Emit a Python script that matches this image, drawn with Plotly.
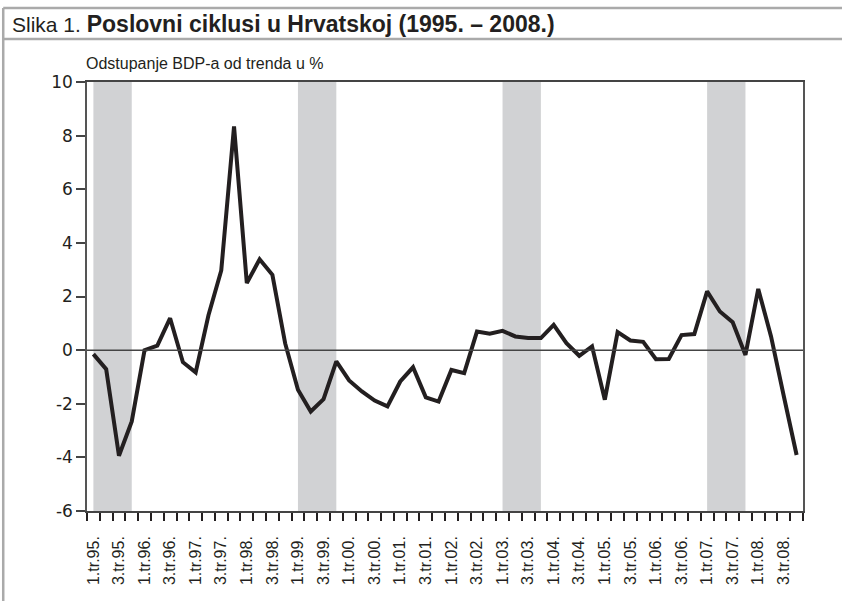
import plotly.graph_objects as go

# Kvartali 1995. - 2008.
kvartali = [f"{q}.tr.{str(g)[2:]}." for g in range(1995, 2009) for q in (1, 2, 3, 4)]

# Odstupanje BDP-a od trenda u %
odstupanje = [
    -0.15, -0.71, -3.94, -2.66,   # 1995
    0.0, 0.17, 1.19, -0.45,       # 1996
    -0.83, 1.3, 2.97, 8.34,       # 1997
    2.5, 3.39, 2.81, 0.25,        # 1998
    -1.48, -2.29, -1.83, -0.42,   # 1999
    -1.13, -1.54, -1.88, -2.1,    # 2000
    -1.17, -0.64, -1.76, -1.92,   # 2001
    -0.74, -0.86, 0.69, 0.61,     # 2002
    0.72, 0.51, 0.45, 0.45,       # 2003
    0.94, 0.26, -0.21, 0.14,      # 2004
    -1.85, 0.67, 0.36, 0.31,      # 2005
    -0.34, -0.33, 0.56, 0.6,      # 2006
    2.19, 1.44, 1.04, -0.18,      # 2007
    2.28, 0.51, -1.72, -3.91,     # 2008
]

# Razdoblja recesije (osjenčano)
recesije = [("1.tr.95.", "4.tr.95."), ("1.tr.99.", "4.tr.99."),
            ("1.tr.03.", "4.tr.03."), ("1.tr.07.", "4.tr.07.")]

# Oznake osi y (s običnom crticom kao u izvorniku)
y_vrijednosti = [-6, -4, -2, 0, 2, 4, 6, 8, 10]
y_oznake = ["-6", "-4", "-2", "0", "2", "4", "6", "8", "10"]

x = list(range(len(kvartali)))
oznake_x = kvartali[::2]
pozicije_oznaka = x[::2]

fig = go.Figure()

for od, do in recesije:
    fig.add_vrect(x0=kvartali.index(od), x1=kvartali.index(do),
                  fillcolor="#d1d2d4", opacity=1, line_width=0, layer="below")

fig.add_hline(y=0, line_color="#444444", line_width=1.5)

fig.add_trace(go.Scatter(x=x, y=odstupanje, mode="lines",
                         line=dict(color="#231f20", width=4),
                         showlegend=False))

fig.update_xaxes(
    range=[-0.5, len(kvartali) - 0.5],
    tickmode="array", tickvals=pozicije_oznaka, ticktext=oznake_x,
    tickangle=-90, ticks="", showgrid=False, zeroline=False,
    ticklabelstandoff=17,
    showline=True, linecolor="#444444", linewidth=1.5, mirror=True,
    tickfont=dict(family="Liberation Sans, Arial", size=16, color="#231f20"),
    minor=dict(tickmode="array", tickvals=[i - 0.5 for i in range(len(kvartali) + 1)],
               ticks="outside", ticklen=8, tickwidth=1.5, tickcolor="#231f20",
               showgrid=False),
)
fig.update_yaxes(
    range=[-6, 10], tickmode="array", tickvals=y_vrijednosti, ticktext=y_oznake,
    ticks="outside", ticklen=9, tickwidth=1.5,
    tickcolor="#444444", showgrid=False, zeroline=False,
    showline=True, linecolor="#555555", linewidth=1.5, mirror=True,
    tickfont=dict(family="DejaVu Sans, Verdana", size=17, color="#231f20"),
)

# Okvir slike (sive crte)
okvir = dict(color="#aaaaaa", width=2.5)
fig.add_shape(type="line", xref="paper", yref="paper", x0=-0.117, x1=1.06,
              y0=1.1725, y1=1.1725, line=okvir)
fig.add_shape(type="line", xref="paper", yref="paper", x0=-0.117, x1=1.06,
              y0=1.1002, y1=1.1002, line=okvir)
fig.add_shape(type="line", xref="paper", yref="paper", x0=-0.117, x1=-0.117,
              y0=1.1725, y1=-0.22, line=okvir)

fig.add_annotation(
    text="Slika 1. <b><span style='font-size:23px'>Poslovni ciklusi u Hrvatskoj (1995. – 2008.)</span></b>",
    xref="paper", yref="paper", x=-0.107, y=1.136, xanchor="left", yanchor="middle",
    showarrow=False, font=dict(family="Liberation Sans, Arial", size=21, color="#231f20"))
fig.add_annotation(
    text="Odstupanje BDP-a od trenda u %",
    xref="paper", yref="paper", x=-0.004, y=1.044, xanchor="left", yanchor="middle",
    showarrow=False, font=dict(family="Liberation Sans, Arial", size=16, color="#231f20"))

fig.update_layout(
    width=842, height=601,
    margin=dict(l=87, r=39, t=82, b=90),
    plot_bgcolor="white", paper_bgcolor="white",
)

# bez rubova stranice, da slika počne u kutu prozora
fig.write_html("out.html", config={"displayModeBar": False},
               post_script="document.body.style.margin='0px';")
